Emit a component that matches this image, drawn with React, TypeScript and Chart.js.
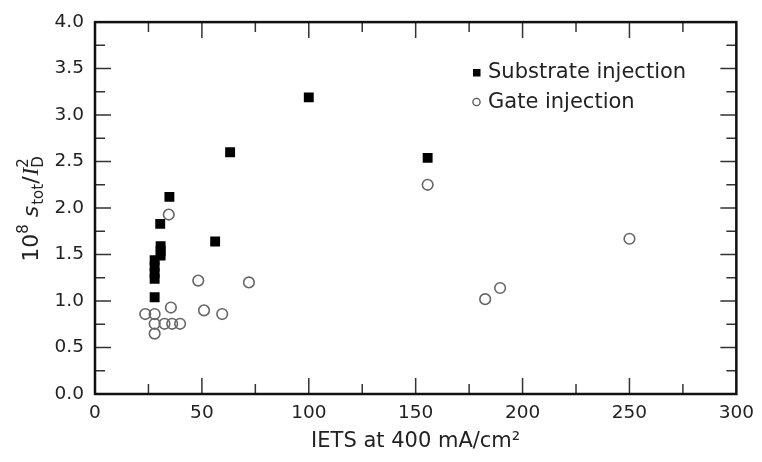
import React, { useEffect, useRef } from "react";
import { Chart, registerables } from "chart.js";

Chart.register(...registerables);

// ---- data ----
const substrateX = [100, 63.2, 155.6, 34.8, 30.5, 56.2, 30.7, 30.7, 30.7, 27.9, 27.9, 27.9, 27.9, 27.9];
const substrateY = [3.19, 2.6, 2.54, 2.12, 1.83, 1.64, 1.59, 1.54, 1.49, 1.44, 1.37, 1.3, 1.24, 1.04];

const gateX = [250, 155.6, 182.5, 189.5, 72, 48.3, 34.5, 51, 59.5, 35.5, 23.5, 27.9, 27.9, 32.5, 36.1, 39.8, 27.9];
const gateY = [1.67, 2.25, 1.02, 1.14, 1.2, 1.22, 1.93, 0.9, 0.86, 0.93, 0.86, 0.86, 0.755, 0.755, 0.755, 0.755, 0.65];

const xMajorTicks = [0, 50, 100, 150, 200, 250, 300];
const yMajorTicks = [0, 0.5, 1.0, 1.5, 2.0, 2.5, 3.0, 3.5, 4.0];

const legendLabels = ["Substrate injection", "Gate injection"];
const xTitle = "IETS at 400 mA/cm\u00B2";

const FONT = "'DejaVu Sans', 'Liberation Sans', sans-serif";
const TEXT = "#222";

function drawYTitle(ctx: CanvasRenderingContext2D, cx: number, cy: number) {
  type Part = { t: string; font: string; dy: number; stackWith?: { t: string; dy: number } };
  const parts: Part[] = [
    { t: "10", font: `22px ${FONT}`, dy: 0 },
    { t: "8", font: `15px ${FONT}`, dy: -10 },
    { t: " ", font: `22px ${FONT}`, dy: 0 },
    { t: "s", font: `italic 22px ${FONT}`, dy: 0 },
    { t: "tot", font: `15px ${FONT}`, dy: 5 },
    { t: "/", font: `22px ${FONT}`, dy: 0 },
    { t: "I", font: `italic 23px 'Liberation Serif', serif`, dy: 0 },
    { t: "D", font: `15px ${FONT}`, dy: 5, stackWith: { t: "2", dy: -10 } },
  ];
  ctx.save();
  ctx.translate(cx, cy);
  ctx.rotate(-Math.PI / 2);
  ctx.fillStyle = TEXT;
  ctx.textBaseline = "alphabetic";
  ctx.textAlign = "left";
  let total = 0;
  const widths: number[] = [];
  for (const p of parts) {
    ctx.font = p.font;
    let w = ctx.measureText(p.t).width;
    if (p.stackWith) w = Math.max(w, ctx.measureText(p.stackWith.t).width);
    widths.push(w);
    total += w;
  }
  let x = -total / 2;
  const base = 8;
  parts.forEach((p, i) => {
    ctx.font = p.font;
    ctx.fillText(p.t, x, base + p.dy);
    if (p.stackWith) ctx.fillText(p.stackWith.t, x, base + p.stackWith.dy);
    x += widths[i] + (i === 3 || i === 5 ? 1 : 0);
  });
  ctx.restore();
}

const framePlugin = {
  id: "frameTicks",
  afterDatasetsDraw(chart: any) {
    const { ctx, chartArea: a, scales } = chart;
    const xs = scales.x;
    const ys = scales.y;
    ctx.save();
    ctx.strokeStyle = "#333";
    ctx.lineWidth = 1.5;
    const major = 16;
    const minor = 10;
    ctx.beginPath();
    for (let i = 0; i < xMajorTicks.length; i++) {
      const v = xMajorTicks[i];
      const px = xs.getPixelForValue(v);
      if (i > 0 && i < xMajorTicks.length - 1) {
        ctx.moveTo(px, a.bottom);
        ctx.lineTo(px, a.bottom - major);
        ctx.moveTo(px, a.top);
        ctx.lineTo(px, a.top + major);
      }
      if (i < xMajorTicks.length - 1) {
        const mp = xs.getPixelForValue((v + xMajorTicks[i + 1]) / 2);
        ctx.moveTo(mp, a.bottom);
        ctx.lineTo(mp, a.bottom - minor);
        ctx.moveTo(mp, a.top);
        ctx.lineTo(mp, a.top + minor);
      }
    }
    for (let i = 0; i < yMajorTicks.length; i++) {
      const v = yMajorTicks[i];
      const py = ys.getPixelForValue(v);
      if (i > 0 && i < yMajorTicks.length - 1) {
        ctx.moveTo(a.left, py);
        ctx.lineTo(a.left + major, py);
        ctx.moveTo(a.right, py);
        ctx.lineTo(a.right - major, py);
      }
      if (i < yMajorTicks.length - 1) {
        const mp = ys.getPixelForValue((v + yMajorTicks[i + 1]) / 2);
        ctx.moveTo(a.left, mp);
        ctx.lineTo(a.left + minor, mp);
        ctx.moveTo(a.right, mp);
        ctx.lineTo(a.right - minor, mp);
      }
    }
    ctx.stroke();
    ctx.strokeStyle = "#111";
    ctx.lineWidth = 2.5;
    ctx.strokeRect(a.left, a.top, a.right - a.left, a.bottom - a.top);

    // legend
    ctx.fillStyle = "#000";
    ctx.fillRect(473, 69, 7.5, 7.5);
    ctx.beginPath();
    ctx.strokeStyle = "#555";
    ctx.lineWidth = 1.3;
    ctx.arc(476.5, 102, 3.6, 0, Math.PI * 2);
    ctx.stroke();
    ctx.fillStyle = TEXT;
    ctx.font = `21px ${FONT}`;
    ctx.textAlign = "left";
    ctx.textBaseline = "middle";
    ctx.fillText(legendLabels[0], 488, 73);
    ctx.fillText(legendLabels[1], 488, 103);

    // x title
    ctx.textAlign = "center";
    ctx.textBaseline = "middle";
    ctx.fillText(xTitle, xs.getPixelForValue(150), 442);

    // y title
    drawYTitle(ctx, 30, 210);
    ctx.restore();
  },
};

export default function App() {
  const ref = useRef<HTMLCanvasElement | null>(null);
  useEffect(() => {
    if (!ref.current) return;
    const chart = new Chart(ref.current, {
      type: "scatter",
      data: {
        datasets: [
          {
            label: legendLabels[0],
            data: substrateX.map((x, i) => ({ x, y: substrateY[i] })),
            pointStyle: "rect",
            pointRadius: 7,
            pointBackgroundColor: "#000",
            pointBorderWidth: 0,
            pointBorderColor: "#000",
          },
          {
            label: legendLabels[1],
            data: gateX.map((x, i) => ({ x, y: gateY[i] })),
            pointStyle: "circle",
            pointRadius: 5.3,
            pointBackgroundColor: "rgba(255,255,255,0)",
            pointBorderColor: "#666",
            pointBorderWidth: 1.6,
          },
        ],
      },
      options: {
        animation: false,
        responsive: false,
        devicePixelRatio: 1,
        layout: { padding: { top: 16, right: 21, left: 0, bottom: 0 } },
        plugins: { legend: { display: false }, tooltip: { enabled: false } },
        scales: {
          x: {
            type: "linear",
            min: 0,
            max: 300,
            ticks: {
              stepSize: 50,
              color: TEXT,
              font: { family: FONT, size: 18.5 },
              padding: 8,
              maxRotation: 0,
            },
            grid: { display: false, drawTicks: false },
            border: { display: false },
            afterFit: (s: any) => {
              s.height = 462 - 394;
            },
          },
          y: {
            type: "linear",
            min: 0,
            max: 4,
            ticks: {
              stepSize: 0.5,
              color: TEXT,
              font: { family: FONT, size: 18.5 },
              padding: 11,
              callback: (v: any) => Number(v).toFixed(1),
            },
            grid: { display: false, drawTicks: false },
            border: { display: false },
            afterFit: (s: any) => {
              s.width = 95;
            },
          },
        },
      },
      plugins: [framePlugin],
    });
    return () => chart.destroy();
  }, []);
  return (
    <div style={{ position: "fixed", left: 0, top: 0, width: 762, height: 462, background: "#fff" }}>
      <canvas ref={ref} width={762} height={462} style={{ width: 762, height: 462 }} />
    </div>
  );
}
